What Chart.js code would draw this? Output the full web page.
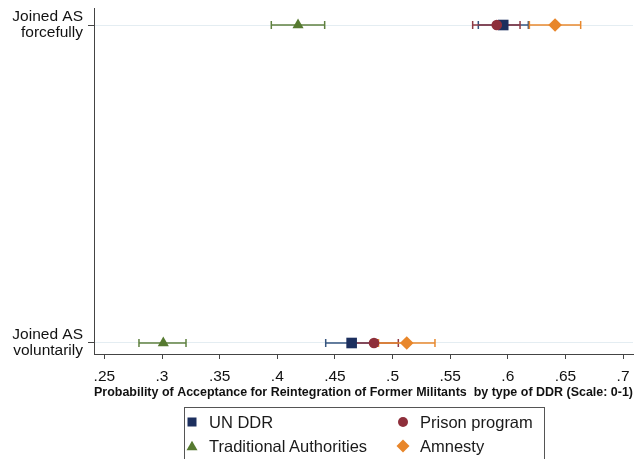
<!DOCTYPE html>
<html>
<head>
<meta charset="utf-8">
<script src="https://cdn.jsdelivr.net/npm/chart.js@4"></script>
<style>
  body { margin: 0; background: #fff; }
  #wrap { position: relative; width: 644px; height: 459px; overflow: hidden; font-family: "Liberation Sans", Arial, sans-serif; }
  #legend { position: absolute; left: 184px; top: 407px; width: 361px; height: 70px; border: 1px solid #555; box-sizing: border-box; }
  .item { position: absolute; font-size: 16.5px; color: #1a1a1a; line-height: 20px; height: 20px; white-space: nowrap; }
  .mk { position: absolute; width: 16px; height: 16px; }
</style>
</head>
<body>
<div id="wrap">
  <canvas id="myChart" width="644" height="459"></canvas>
  <div id="legend"></div>
</div>
<script>
// Rows (top to bottom)
const categories = [['Joined AS', 'forcefully'], ['Joined AS', 'voluntarily']];

// x axis ticks
const xTicks = [0.25, 0.3, 0.35, 0.4, 0.45, 0.5, 0.55, 0.6, 0.65, 0.7];
const xTickLabels = ['.25', '.3', '.35', '.4', '.45', '.5', '.55', '.6', '.65', '.7'];

// Series: estimate and CI per row [forcefully, voluntarily]
const seriesNames = ['UN DDR', 'Prison program', 'Traditional Authorities', 'Amnesty'];
const unDdrEst = [0.596, 0.4645];
const unDdrLow = [0.5744, 0.442];
const unDdrHigh = [0.6178, 0.487];
const prisonEst = [0.5904, 0.4839];
const prisonLow = [0.5695, 0.4628];
const prisonHigh = [0.6106, 0.505];
const tradEst = [0.418, 0.3011];
const tradLow = [0.3948, 0.280];
const tradHigh = [0.4411, 0.3208];
const amnestyEst = [0.641, 0.5123];
const amnestyLow = [0.6187, 0.4878];
const amnestyHigh = [0.6632, 0.5368];

const series = [
  { name: seriesNames[0], est: unDdrEst, lo: unDdrLow, hi: unDdrHigh, color: '#1c2f5e', ci: '#35557f', style: 'rect', r: 7.5 },
  { name: seriesNames[1], est: prisonEst, lo: prisonLow, hi: prisonHigh, color: '#8e2f3b', ci: '#8e3a45', style: 'circle', r: 5.3 },
  { name: seriesNames[2], est: tradEst, lo: tradLow, hi: tradHigh, color: '#567a30', ci: '#5f8140', style: 'triangle', r: 6.4 },
  { name: seriesNames[3], est: amnestyEst, lo: amnestyLow, hi: amnestyHigh, color: '#e8862a', ci: '#e8892e', style: 'rectRot', r: 6.8 }
];

const rowValue = i => categories.length - 1 - i;

const datasets = [];
// confidence intervals first, markers on top
series.forEach(s => {
  categories.forEach((c, i) => {
    datasets.push({
      label: s.name + ' CI',
      data: [{ x: s.lo[i], y: rowValue(i) }, { x: s.hi[i], y: rowValue(i) }],
      showLine: true,
      borderColor: s.ci,
      borderWidth: 1.5,
      pointStyle: 'line',
      rotation: 90,
      pointRadius: 4,
      pointBorderWidth: 1.5,
      pointBorderColor: s.ci
    });
  });
});
series.forEach(s => {
  datasets.push({
    label: s.name,
    data: categories.map((c, i) => ({ x: s.est[i], y: rowValue(i) })),
    pointStyle: s.style,
    pointRadius: s.r,
    pointBackgroundColor: s.color,
    pointBorderColor: s.color,
    pointBorderWidth: 0
  });
});
datasets.forEach((d, i) => { d.order = datasets.length - i; });

Chart.defaults.font.family = '"Liberation Sans", Arial, sans-serif';

const ctx = document.getElementById('myChart').getContext('2d');
const myChart = new Chart(ctx, {
  type: 'scatter',
  data: { datasets: datasets },
  options: {
    responsive: false,
    animation: false,
    layout: { padding: { top: 8, right: 11, bottom: 59, left: 0 } },
    plugins: {
      legend: { display: false },
      tooltip: { enabled: false }
    },
    scales: {
      x: {
        type: 'linear',
        min: 0.24098,
        max: 0.7086,
        afterBuildTicks: s => { s.ticks = xTicks.map(v => ({ value: v })); },
        afterFit: s => { s.height = 46; s.paddingLeft = 0; s.paddingRight = 0; },
        ticks: {
          callback: (v, i) => xTickLabels[i],
          autoSkip: false,
          maxRotation: 0,
          color: '#111',
          font: { size: 15.5 },
          padding: 8
        },
        grid: { drawOnChartArea: false, tickLength: 5, tickColor: '#444' },
        border: { color: '#444' },
        title: {
          display: true,
          align: 'end',
          text: 'Probability of Acceptance for Reintegration of Former Militants  by type of DDR (Scale: 0-1)',
          color: '#111',
          font: { size: 13.6, weight: 'bold' },
          padding: { top: 0, bottom: 0 }
        }
      },
      y: {
        type: 'linear',
        min: -0.0346,
        max: 1.0535,
        afterBuildTicks: s => { s.ticks = categories.map((c, i) => ({ value: rowValue(i) })); },
        afterFit: s => { s.width = 94; s.paddingTop = 0; s.paddingBottom = 0; },
        ticks: {
          callback: v => categories[rowValue(v)],
          color: '#111',
          font: { size: 15.5, lineHeight: 1.05 },
          padding: 5
        },
        grid: { color: '#e4edf2', tickColor: '#444', tickLength: 6 },
        border: { color: '#444' }
      }
    }
  }
});

// Legend box below the chart, two columns
const shapes = {
  rect: c => '<rect x="3.5" y="3.5" width="9" height="9" fill="' + c + '"/>',
  circle: c => '<circle cx="8" cy="8" r="5" fill="' + c + '"/>',
  triangle: c => '<polygon points="8,2.8 13.5,12.3 2.5,12.3" fill="' + c + '"/>',
  rectRot: c => '<polygon points="8,1.5 14.5,8 8,14.5 1.5,8" fill="' + c + '"/>'
};
const legendPos = [[7, 14], [218, 14], [7, 38], [218, 38]];
const legend = document.getElementById('legend');
series.forEach((s, i) => {
  const [lx, ly] = legendPos[i];
  legend.insertAdjacentHTML('beforeend',
    '<svg class="mk" style="left:' + (lx - 8) + 'px;top:' + (ly - 8) + 'px" viewBox="0 0 16 16">' + shapes[s.style](s.color) + '</svg>' +
    '<div class="item" style="left:' + (lx + 17) + 'px;top:' + (ly - 10) + 'px">' + s.name + '</div>');
});
</script>
</body>
</html>
